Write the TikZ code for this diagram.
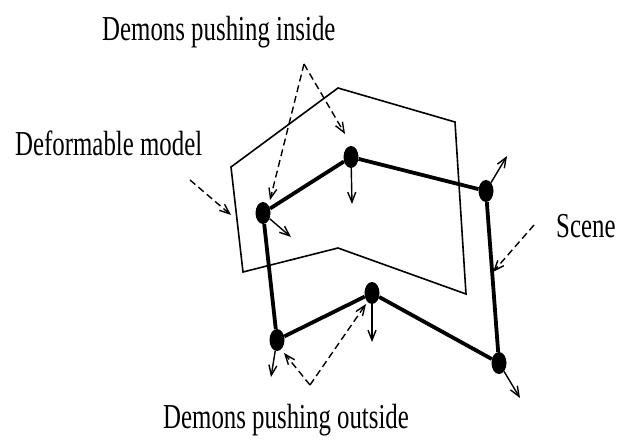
\documentclass[tikz,border=0pt]{standalone}
\usepackage{graphicx}
\usepackage{fontspec}
\setmainfont{Liberation Serif}
\usetikzlibrary{arrows.meta,shapes.geometric}
\tikzset{
  dot/.style={ellipse, fill, inner sep=0pt, minimum width=15pt, minimum height=22pt},
  lbl/.style={font=\fontsize{35}{38}\selectfont, inner sep=0pt, anchor=base west},
  demon/.style={line width=1.4pt, -{Straight Barb[length=10pt,width=8pt]}},
  pointer/.style={line width=1.4pt, dash pattern=on 7pt off 4pt,
    -{Straight Barb[length=10pt,width=8pt]}},
}
\newcommand{\narrow}[1]{\scalebox{0.71}[1]{#1}}
\begin{document}
\begin{tikzpicture}[x=1pt,y=-1pt]
  \useasboundingbox (0,0) rectangle (622,442);
  % labels
  \node[lbl] (inside) at (102,40) {\narrow{Demons pushing inside}};
  \node[lbl] (model) at (15,155) {\narrow{Deformable model}};
  \node[lbl] (scene) at (556,237) {\narrow{Scene}};
  \node[lbl] (outside) at (163,428) {\narrow{Demons pushing outside}};
  % deformable model
  \draw[line width=1.6pt, line join=miter] (231,167) -- (338,88) -- (455,122)
    -- (466,294) -- (338,248) -- (243,272) -- cycle;
  % scene
  \node[dot] (a) at (263,213) {};
  \node[dot] (b) at (351,157) {};
  \node[dot] (c) at (486,191) {};
  \node[dot] (d) at (499,363) {};
  \node[dot] (e) at (372,293) {};
  \node[dot] (f) at (277,340) {};
  \draw[line width=3.8pt] (a) -- (b) -- (c) -- (d) -- (e) -- (f) -- (a);
  % demons
  \coordinate (na) at (291,237); \coordinate (nb) at (352,204);
  \coordinate (nc) at (507,156); \coordinate (nd) at (520,398);
  \coordinate (ne) at (372,342); \coordinate (nf) at (271,377);
  \foreach \p in {a,b,c,d,e,f} \draw[demon] (\p) -- (n\p);
  % pointers
  \coordinate (pin) at (304,64); \coordinate (pout) at (310,385);
  \coordinate (pmodel) at (190,180); \coordinate (pscene) at (534,225);
  \draw[pointer] (pin) -- (270,200);
  \draw[pointer] (pin) -- (345,134);
  \draw[pointer] (pout) -- (284,353);
  \draw[pointer] (pout) -- (366,304);
  \draw[pointer] (pmodel) -- (231,215);
  \draw[pointer] (pscene) -- (493,272);
\end{tikzpicture}
\end{document}
